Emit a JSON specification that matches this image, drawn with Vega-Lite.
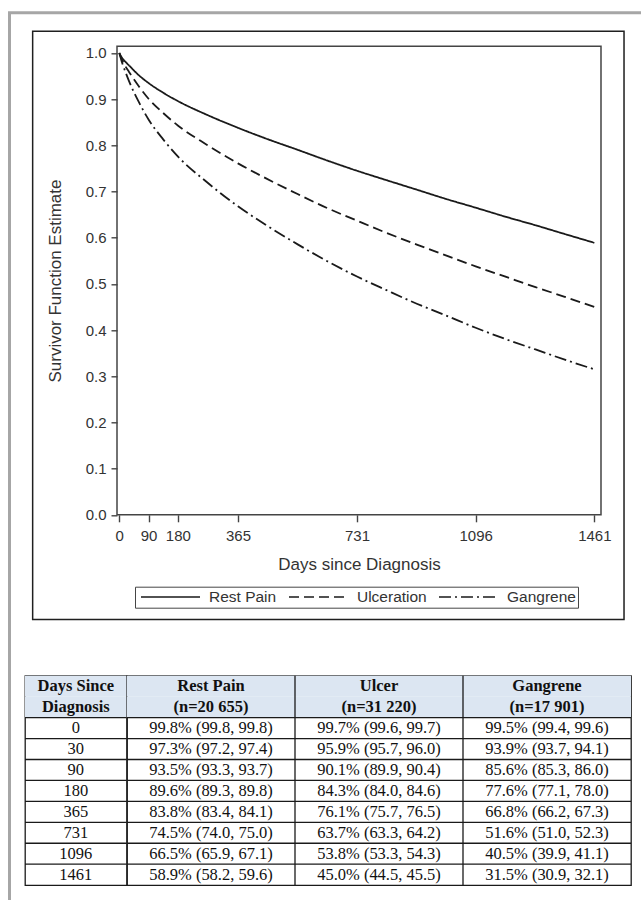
{
  "$schema": "https://vega.github.io/schema/vega-lite/v6.json",
  "background": "white",
  "padding": {"left": 8, "top": 11.3, "right": 0, "bottom": 0},
  "config": {
    "view": {"stroke": null},
    "font": "Liberation Sans",
    "axis": {
      "labelFont": "Liberation Sans", "labelFontSize": 15, "labelColor": "#333",
      "titleFont": "Liberation Sans", "titleFontSize": 17, "titleFontWeight": "normal", "titleColor": "#333",
      "tickColor": "#444", "tickWidth": 1.4, "domain": false, "grid": false,
      "labelFlush": false, "labelOverlap": false, "labelBound": false
    }
  },
  "datasets": {
    "page": [{"part": "page frame"}],
    "box": [{"part": "figure border"}],
    "curves": [
      {"group": "Rest Pain", "day": 0, "surv": 1.000}, {"group": "Rest Pain", "day": 10, "surv": 0.988}, {"group": "Rest Pain", "day": 20, "surv": 0.980}, {"group": "Rest Pain", "day": 30, "surv": 0.973}, {"group": "Rest Pain", "day": 60, "surv": 0.952}, {"group": "Rest Pain", "day": 90, "surv": 0.935}, {"group": "Rest Pain", "day": 135, "surv": 0.914}, {"group": "Rest Pain", "day": 180, "surv": 0.896}, {"group": "Rest Pain", "day": 270, "surv": 0.866}, {"group": "Rest Pain", "day": 365, "surv": 0.838}, {"group": "Rest Pain", "day": 450, "surv": 0.815}, {"group": "Rest Pain", "day": 550, "surv": 0.790}, {"group": "Rest Pain", "day": 640, "surv": 0.767}, {"group": "Rest Pain", "day": 731, "surv": 0.745}, {"group": "Rest Pain", "day": 820, "surv": 0.725}, {"group": "Rest Pain", "day": 915, "surv": 0.704}, {"group": "Rest Pain", "day": 1000, "surv": 0.685}, {"group": "Rest Pain", "day": 1096, "surv": 0.665}, {"group": "Rest Pain", "day": 1190, "surv": 0.645}, {"group": "Rest Pain", "day": 1280, "surv": 0.627}, {"group": "Rest Pain", "day": 1370, "surv": 0.608}, {"group": "Rest Pain", "day": 1461, "surv": 0.589},
      {"group": "Ulceration", "day": 0, "surv": 1.000}, {"group": "Ulceration", "day": 10, "surv": 0.983}, {"group": "Ulceration", "day": 20, "surv": 0.970}, {"group": "Ulceration", "day": 30, "surv": 0.959}, {"group": "Ulceration", "day": 60, "surv": 0.928}, {"group": "Ulceration", "day": 90, "surv": 0.901}, {"group": "Ulceration", "day": 135, "surv": 0.870}, {"group": "Ulceration", "day": 180, "surv": 0.843}, {"group": "Ulceration", "day": 270, "surv": 0.801}, {"group": "Ulceration", "day": 365, "surv": 0.761}, {"group": "Ulceration", "day": 450, "surv": 0.729}, {"group": "Ulceration", "day": 550, "surv": 0.694}, {"group": "Ulceration", "day": 640, "surv": 0.664}, {"group": "Ulceration", "day": 731, "surv": 0.637}, {"group": "Ulceration", "day": 820, "surv": 0.611}, {"group": "Ulceration", "day": 915, "surv": 0.585}, {"group": "Ulceration", "day": 1000, "surv": 0.563}, {"group": "Ulceration", "day": 1096, "surv": 0.538}, {"group": "Ulceration", "day": 1190, "surv": 0.515}, {"group": "Ulceration", "day": 1280, "surv": 0.493}, {"group": "Ulceration", "day": 1370, "surv": 0.472}, {"group": "Ulceration", "day": 1461, "surv": 0.450},
      {"group": "Gangrene", "day": 0, "surv": 1.000}, {"group": "Gangrene", "day": 10, "surv": 0.976}, {"group": "Gangrene", "day": 20, "surv": 0.957}, {"group": "Gangrene", "day": 30, "surv": 0.939}, {"group": "Gangrene", "day": 60, "surv": 0.894}, {"group": "Gangrene", "day": 90, "surv": 0.856}, {"group": "Gangrene", "day": 135, "surv": 0.813}, {"group": "Gangrene", "day": 180, "surv": 0.776}, {"group": "Gangrene", "day": 270, "surv": 0.720}, {"group": "Gangrene", "day": 365, "surv": 0.668}, {"group": "Gangrene", "day": 450, "surv": 0.628}, {"group": "Gangrene", "day": 550, "surv": 0.585}, {"group": "Gangrene", "day": 640, "surv": 0.549}, {"group": "Gangrene", "day": 731, "surv": 0.516}, {"group": "Gangrene", "day": 820, "surv": 0.487}, {"group": "Gangrene", "day": 915, "surv": 0.457}, {"group": "Gangrene", "day": 1000, "surv": 0.433}, {"group": "Gangrene", "day": 1096, "surv": 0.405}, {"group": "Gangrene", "day": 1190, "surv": 0.380}, {"group": "Gangrene", "day": 1280, "surv": 0.358}, {"group": "Gangrene", "day": 1370, "surv": 0.336}, {"group": "Gangrene", "day": 1461, "surv": 0.315}
    ],
    "cells": [
      {"row": "h1", "column": "Days Since Diagnosis", "part": "head", "text": "Days Since"},
      {"row": "h2", "column": "Days Since Diagnosis", "part": "head", "text": "Diagnosis"},
      {"row": "h1", "column": "Rest Pain", "part": "head", "text": "Rest Pain"},
      {"row": "h2", "column": "Rest Pain", "part": "head", "text": "(n=20 655)"},
      {"row": "h1", "column": "Ulcer", "part": "head", "text": "Ulcer"},
      {"row": "h2", "column": "Ulcer", "part": "head", "text": "(n=31 220)"},
      {"row": "h1", "column": "Gangrene", "part": "head", "text": "Gangrene"},
      {"row": "h2", "column": "Gangrene", "part": "head", "text": "(n=17 901)"},
      {"row": "0", "column": "Days Since Diagnosis", "part": "body", "text": "0"},
      {"row": "0", "column": "Rest Pain", "part": "body", "text": "99.8% (99.8, 99.8)"},
      {"row": "0", "column": "Ulcer", "part": "body", "text": "99.7% (99.6, 99.7)"},
      {"row": "0", "column": "Gangrene", "part": "body", "text": "99.5% (99.4, 99.6)"},
      {"row": "30", "column": "Days Since Diagnosis", "part": "body", "text": "30"},
      {"row": "30", "column": "Rest Pain", "part": "body", "text": "97.3% (97.2, 97.4)"},
      {"row": "30", "column": "Ulcer", "part": "body", "text": "95.9% (95.7, 96.0)"},
      {"row": "30", "column": "Gangrene", "part": "body", "text": "93.9% (93.7, 94.1)"},
      {"row": "90", "column": "Days Since Diagnosis", "part": "body", "text": "90"},
      {"row": "90", "column": "Rest Pain", "part": "body", "text": "93.5% (93.3, 93.7)"},
      {"row": "90", "column": "Ulcer", "part": "body", "text": "90.1% (89.9, 90.4)"},
      {"row": "90", "column": "Gangrene", "part": "body", "text": "85.6% (85.3, 86.0)"},
      {"row": "180", "column": "Days Since Diagnosis", "part": "body", "text": "180"},
      {"row": "180", "column": "Rest Pain", "part": "body", "text": "89.6% (89.3, 89.8)"},
      {"row": "180", "column": "Ulcer", "part": "body", "text": "84.3% (84.0, 84.6)"},
      {"row": "180", "column": "Gangrene", "part": "body", "text": "77.6% (77.1, 78.0)"},
      {"row": "365", "column": "Days Since Diagnosis", "part": "body", "text": "365"},
      {"row": "365", "column": "Rest Pain", "part": "body", "text": "83.8% (83.4, 84.1)"},
      {"row": "365", "column": "Ulcer", "part": "body", "text": "76.1% (75.7, 76.5)"},
      {"row": "365", "column": "Gangrene", "part": "body", "text": "66.8% (66.2, 67.3)"},
      {"row": "731", "column": "Days Since Diagnosis", "part": "body", "text": "731"},
      {"row": "731", "column": "Rest Pain", "part": "body", "text": "74.5% (74.0, 75.0)"},
      {"row": "731", "column": "Ulcer", "part": "body", "text": "63.7% (63.3, 64.2)"},
      {"row": "731", "column": "Gangrene", "part": "body", "text": "51.6% (51.0, 52.3)"},
      {"row": "1096", "column": "Days Since Diagnosis", "part": "body", "text": "1096"},
      {"row": "1096", "column": "Rest Pain", "part": "body", "text": "66.5% (65.9, 67.1)"},
      {"row": "1096", "column": "Ulcer", "part": "body", "text": "53.8% (53.3, 54.3)"},
      {"row": "1096", "column": "Gangrene", "part": "body", "text": "40.5% (39.9, 41.1)"},
      {"row": "1461", "column": "Days Since Diagnosis", "part": "body", "text": "1461"},
      {"row": "1461", "column": "Rest Pain", "part": "body", "text": "58.9% (58.2, 59.6)"},
      {"row": "1461", "column": "Ulcer", "part": "body", "text": "45.0% (44.5, 45.5)"},
      {"row": "1461", "column": "Gangrene", "part": "body", "text": "31.5% (30.9, 32.1)"}
    ]
  },
  "hconcat": [
    {
      "width": 3, "height": 890,
      "data": {"name": "page"},
      "mark": {"type": "rect", "color": "#a6a6a6"},
      "encoding": {}
    },
    {
      "vconcat": [
        {
          "width": 634, "height": 3,
          "data": {"name": "page"},
          "mark": {"type": "rect", "color": "#a6a6a6"},
          "encoding": {}
        },
        {
          "vconcat": [
            {
              "hconcat": [
                {
                  "width": 106, "height": 1,
                  "data": {"name": "page"},
                  "mark": {"type": "rect", "color": "white"},
                  "encoding": {}
                },
                {
                  "width": 484, "height": 468.5,
                  "view": {"stroke": "#444", "strokeWidth": 1.5},
                  "layer": [
                    {
                      "data": {"name": "curves"},
                      "mark": {"type": "line", "interpolate": "monotone", "color": "#1a1a1a", "strokeWidth": 1.8},
                      "encoding": {
                        "x": {"field": "day", "type": "quantitative",
                          "scale": {"domain": [-7, 1481.5], "nice": false, "zero": false},
                          "axis": {"values": [0, 90, 180, 365, 731, 1096, 1461], "format": "d", "title": "Days since Diagnosis", "tickSize": 7, "labelPadding": 7, "titlePadding": 13}},
                        "y": {"field": "surv", "type": "quantitative",
                          "scale": {"domain": [0, 1.0145], "nice": false, "zero": false},
                          "axis": {"values": [0, 0.1, 0.2, 0.3, 0.4, 0.5, 0.6, 0.7, 0.8, 0.9, 1.0], "format": ".1f", "title": "Survivor Function Estimate", "tickSize": 6, "labelPadding": 5, "titlePadding": 21}},
                        "strokeDash": {"field": "group", "type": "nominal",
                          "scale": {"domain": ["Rest Pain", "Ulceration", "Gangrene"], "range": [[1, 0], [10, 5], [12, 4, 2, 4]]},
                          "legend": {"orient": "none", "legendX": 127, "legendY": 575.4, "direction": "horizontal", "title": null,
                            "symbolType": "M-1,0L7.43,0", "symbolSize": 196, "symbolStrokeWidth": 1.5, "symbolStrokeColor": "#1a1a1a", "symbolFillColor": "transparent",
                            "symbolOffset": 3, "labelFont": "Liberation Sans", "labelFontSize": 15.5, "labelColor": "#333",
                            "labelOffset": 53, "columnPadding": 8, "strokeColor": "#444", "padding": 2}}
                      }
                    },
                    {
                      "data": {"name": "box"},
                      "mark": {"type": "rect", "filled": false, "stroke": "#1f1f1f", "strokeWidth": 1.5, "clip": false},
                      "encoding": {
                        "x": {"datum": -266.4, "type": "quantitative"},
                        "x2": {"datum": 1552.3},
                        "y": {"datum": 1.047, "type": "quantitative"},
                        "y2": {"datum": -0.2269}
                      }
                    }
                  ]
                }
              ],
              "spacing": 0,
              "bounds": "flush"
            },
            {
              "hconcat": [
                {
                  "width": 14, "height": 1,
                  "data": {"name": "page"},
                  "mark": {"type": "rect", "color": "white"},
                  "encoding": {}
                },
                {
                  "width": 101.7, "height": 209.3,
                  "view": {"stroke": "#1a1a1a", "strokeWidth": 1.3},
                  "data": {"name": "cells"},
                  "transform": [{"filter": "datum.column === 'Days Since Diagnosis'"}],
                  "layer": [
                    {
                      "transform": [{"filter": "datum.part === 'head'"}],
                      "mark": {"type": "rect", "color": "#dce6f2"},
                      "encoding": {
                        "x": {"field": "column", "type": "nominal", "scale": {"paddingInner": 0, "paddingOuter": 0}, "axis": null},
                        "y": {"field": "row", "type": "ordinal", "scale": {"domain": ["h1", "h2", "0", "30", "90", "180", "365", "731", "1096", "1461"], "paddingInner": 0, "paddingOuter": 0}, "axis": null}
                      }
                    },
                    {
                      "transform": [{"filter": "datum.part === 'body'"}],
                      "mark": {"type": "rule", "color": "#1a1a1a", "strokeWidth": 1.3},
                      "encoding": {
                        "y": {"field": "row", "type": "ordinal", "bandPosition": 0, "axis": null}
                      }
                    },
                    {
                      "transform": [{"filter": "datum.part === 'head'"}],
                      "mark": {"type": "text", "font": "Liberation Serif", "fontSize": 16.5, "fontWeight": "bold", "color": "#111"},
                      "encoding": {
                        "x": {"field": "column", "type": "nominal", "axis": null},
                        "y": {"field": "row", "type": "ordinal", "axis": null},
                        "text": {"field": "text", "type": "nominal"}
                      }
                    },
                    {
                      "transform": [{"filter": "datum.part === 'body'"}],
                      "mark": {"type": "text", "font": "Liberation Serif", "fontSize": 16.5, "color": "#111"},
                      "encoding": {
                        "x": {"field": "column", "type": "nominal", "axis": null},
                        "y": {"field": "row", "type": "ordinal", "axis": null},
                        "text": {"field": "text", "type": "nominal"}
                      }
                    }
                  ]
                },
                {
                  "width": 504, "height": 209.3,
                  "view": {"stroke": "#1a1a1a", "strokeWidth": 1.3},
                  "data": {"name": "cells"},
                  "transform": [{"filter": "datum.column !== 'Days Since Diagnosis'"}],
                  "layer": [
                    {
                      "transform": [{"filter": "datum.part === 'head'"}],
                      "mark": {"type": "rect", "color": "#dce6f2"},
                      "encoding": {
                        "x": {"field": "column", "type": "nominal", "scale": {"domain": ["Rest Pain", "Ulcer", "Gangrene"], "paddingInner": 0, "paddingOuter": 0}, "axis": null},
                        "y": {"field": "row", "type": "ordinal", "scale": {"domain": ["h1", "h2", "0", "30", "90", "180", "365", "731", "1096", "1461"], "paddingInner": 0, "paddingOuter": 0}, "axis": null}
                      }
                    },
                    {
                      "transform": [{"filter": "datum.part === 'body' && datum.column === 'Rest Pain'"}],
                      "mark": {"type": "rule", "color": "#1a1a1a", "strokeWidth": 1.3},
                      "encoding": {
                        "y": {"field": "row", "type": "ordinal", "bandPosition": 0, "axis": null}
                      }
                    },
                    {
                      "transform": [{"filter": "datum.row === 'h1' && datum.column !== 'Rest Pain'"}],
                      "mark": {"type": "rule", "color": "#1a1a1a", "strokeWidth": 1.3},
                      "encoding": {
                        "x": {"field": "column", "type": "nominal", "bandPosition": 0, "axis": null}
                      }
                    },
                    {
                      "transform": [{"filter": "datum.part === 'head'"}],
                      "mark": {"type": "text", "font": "Liberation Serif", "fontSize": 16.5, "fontWeight": "bold", "color": "#111"},
                      "encoding": {
                        "x": {"field": "column", "type": "nominal", "axis": null},
                        "y": {"field": "row", "type": "ordinal", "axis": null},
                        "text": {"field": "text", "type": "nominal"}
                      }
                    },
                    {
                      "transform": [{"filter": "datum.part === 'body'"}],
                      "mark": {"type": "text", "font": "Liberation Serif", "fontSize": 16.5, "color": "#111"},
                      "encoding": {
                        "x": {"field": "column", "type": "nominal", "axis": null},
                        "y": {"field": "row", "type": "ordinal", "axis": null},
                        "text": {"field": "text", "type": "nominal"}
                      }
                    }
                  ]
                }
              ],
              "spacing": 0,
              "bounds": "flush"
            }
          ],
          "spacing": 52.5
        }
      ],
      "spacing": 15
    }
  ],
  "spacing": 0
}
